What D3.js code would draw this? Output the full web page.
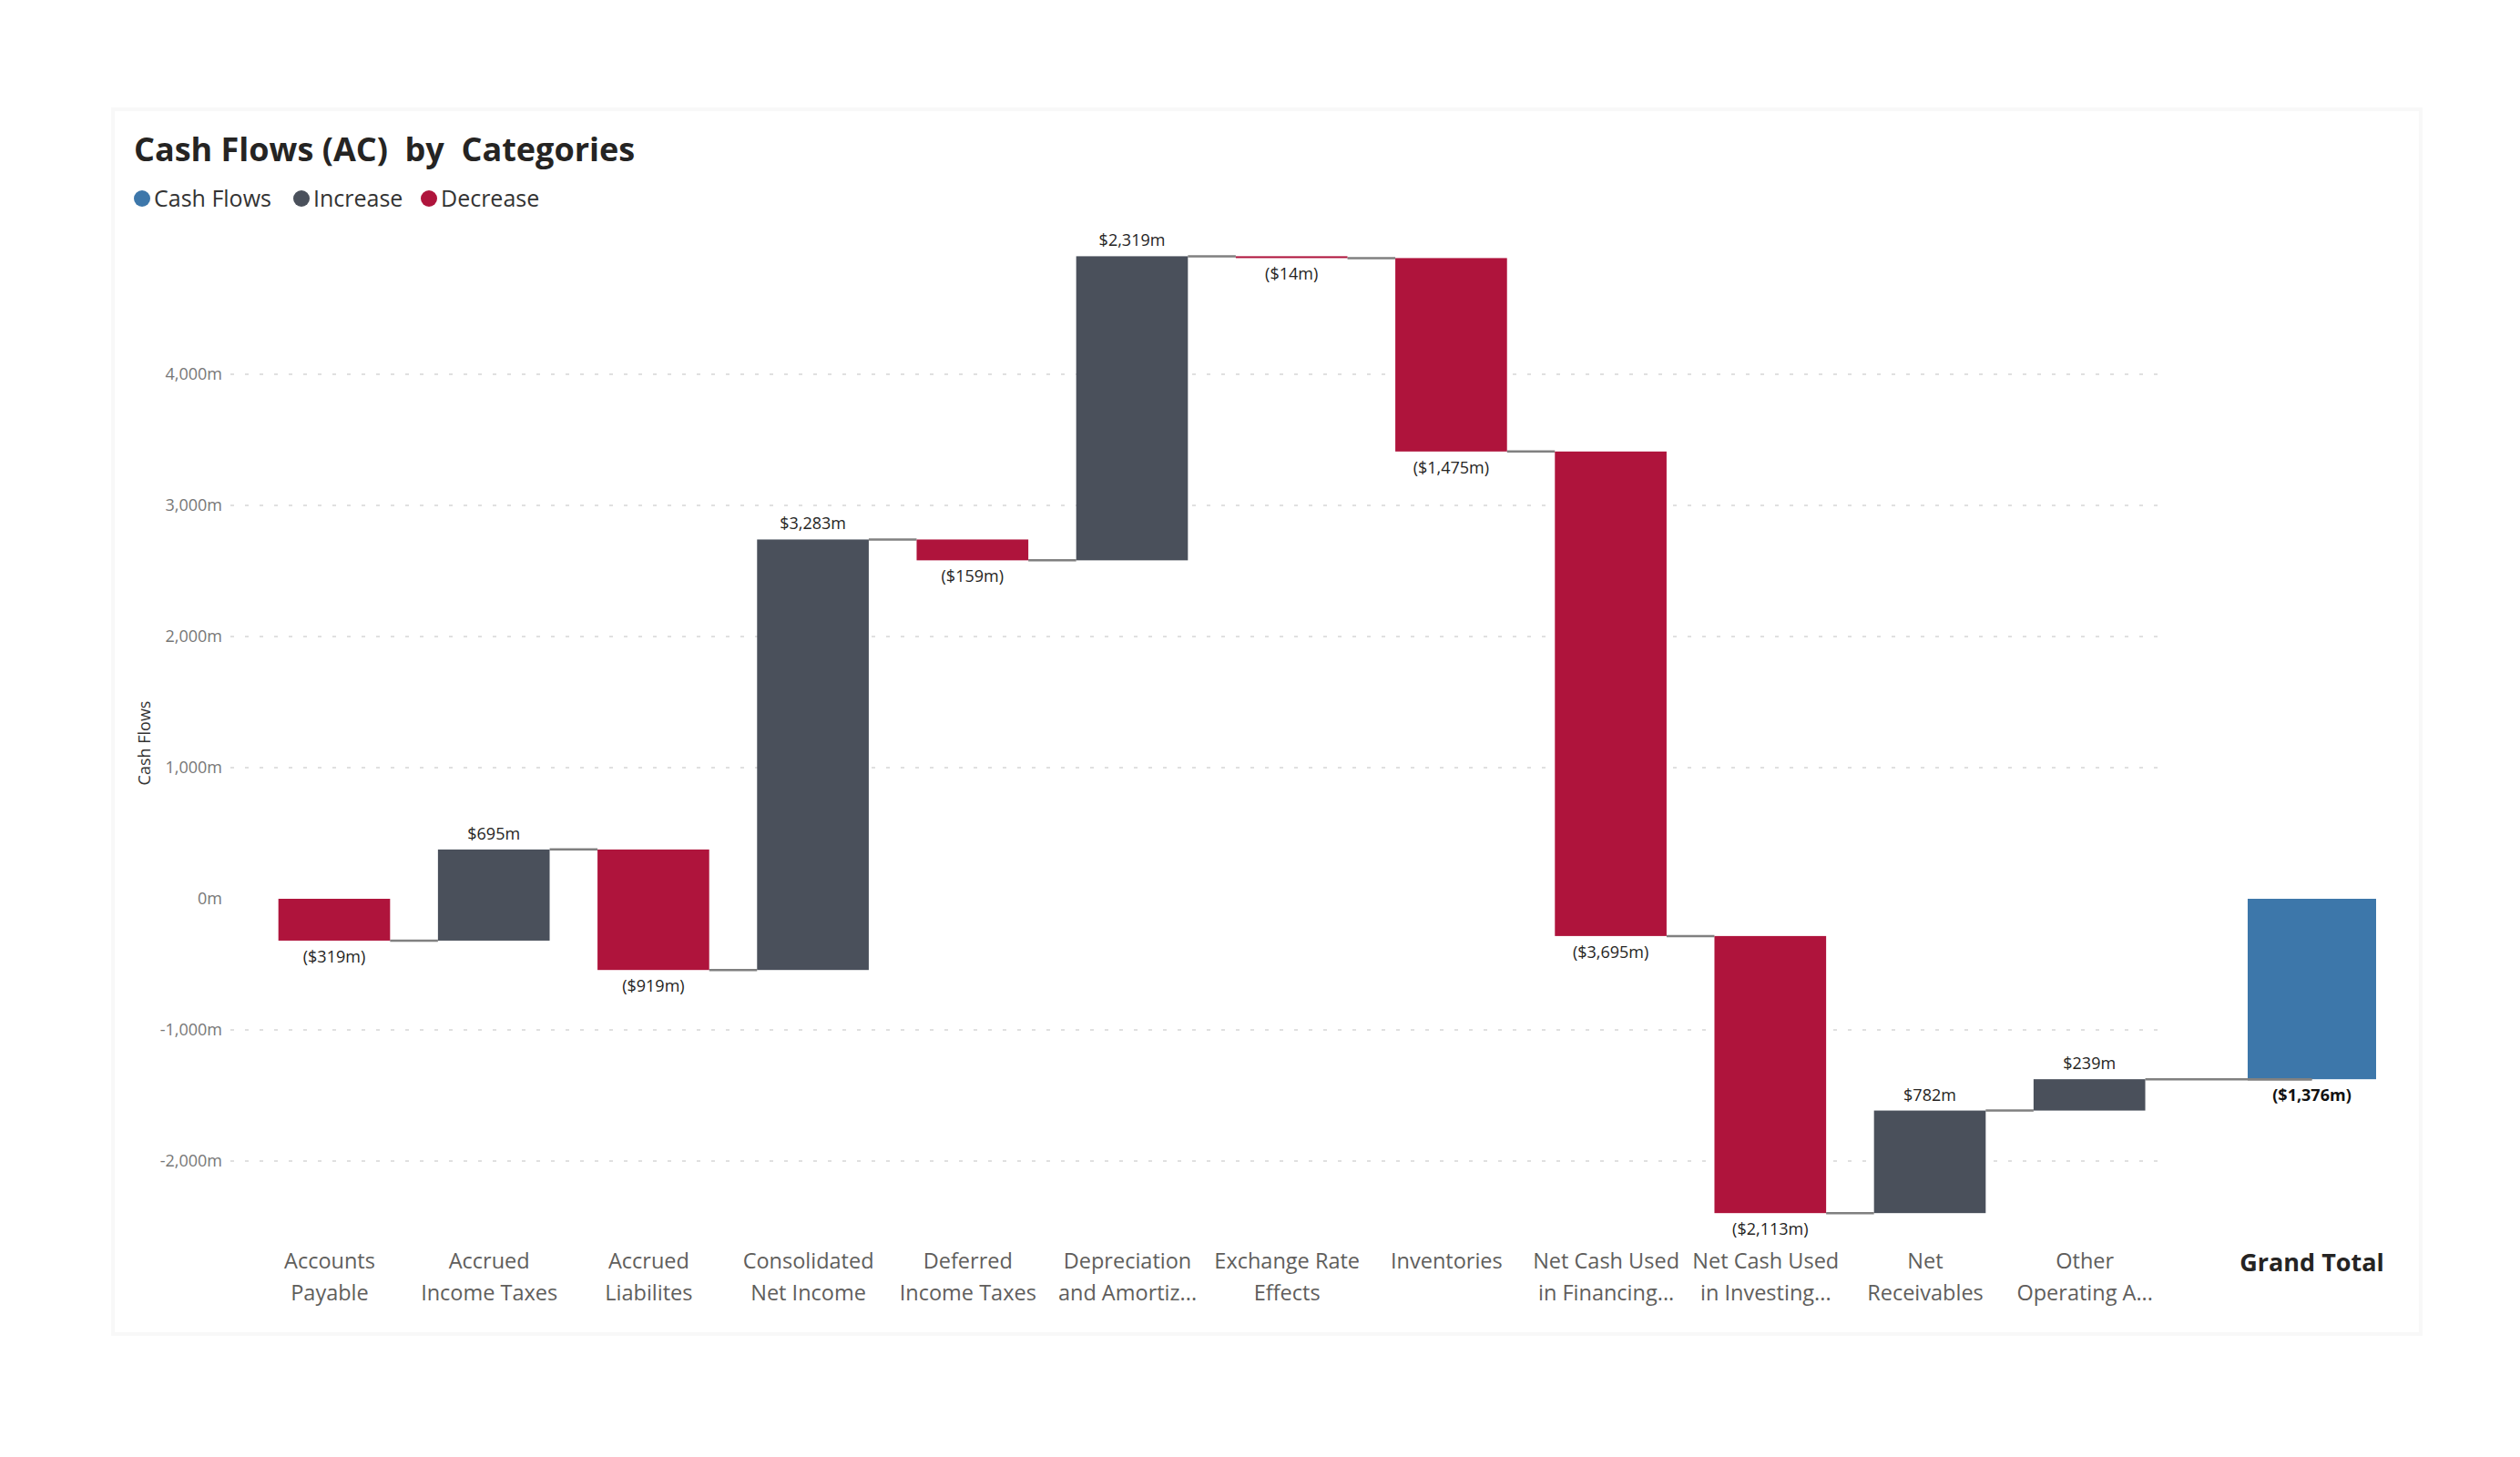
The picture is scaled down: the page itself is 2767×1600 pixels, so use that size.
<html>
<head><meta charset="utf-8"></head>
<script src='https://d3js.org/d3.v7.min.js'></script>
<style>
  body { margin: 0; background: #fff; }
  text { font-family: 'Open Sans', 'Noto Sans', sans-serif; }
</style>
<body onload='init()'>
<svg width=2767 height=1600></svg>
<script>
// data
const categoryLines = [
  ['Accounts', 'Payable'], ['Accrued', 'Income Taxes'], ['Accrued', 'Liabilites'],
  ['Consolidated', 'Net Income'], ['Deferred', 'Income Taxes'], ['Depreciation', 'and Amortiz...'],
  ['Exchange Rate', 'Effects'], ['Inventories'], ['Net Cash Used', 'in Financing...'],
  ['Net Cash Used', 'in Investing...'], ['Net', 'Receivables'], ['Other', 'Operating A...']
]
const categories = categoryLines.map(l => l.join(' '))
const values = [-319, 695, -919, 3283, -159, 2319, -14, -1475, -3695, -2113, 782, 239]
const totalLabel = 'Grand Total'
const yTicks = [-2000, -1000, 0, 1000, 2000, 3000, 4000]
const legendItems = ['Cash Flows', 'Increase', 'Decrease']
const colors = {'Cash Flows': '#3d77aa', 'Increase': '#4a505b', 'Decrease': '#af143c'}

function init() {
  const svg = d3.select('svg')

  // faint card
  svg.append('rect').attr('x', 124).attr('y', 120).attr('width', 2534).attr('height', 1345)
    .attr('fill', 'none').attr('stroke', '#f8f8f8').attr('stroke-width', 4)

  // waterfall steps
  let run = 0
  const steps = values.map((v, i) => {
    const start = run
    run += v
    return {cat: categories[i], lines: categoryLines[i], v: v, start: start, end: run}
  })
  const total = run

  const x = d3.scaleBand().domain(categories).range([279.4, 2381.8])
    .paddingInner(0.3).paddingOuter(0.15)
  const y = d3.scaleLinear().domain([-2700, 5200]).range([987 + 2700 * 0.144, 987 - 5200 * 0.144])
  const totalX = 2468, totalW = 141
  const num = d3.format(',')
  const fmt = v => (v < 0 ? '-' : '') + num(Math.abs(v))

  // gridlines (none at zero)
  svg.append('g').selectAll('line').data(yTicks.filter(t => t != 0)).enter()
    .append('line')
    .attr('x1', 253).attr('x2', 2381)
    .attr('y1', d => y(d)).attr('y2', d => y(d))
    .attr('stroke', '#d6d6d6').attr('stroke-width', 1.5).attr('stroke-dasharray', '4,12')

  // y axis labels
  const yAxis = svg.append('g').attr('transform', 'translate(244,0)')
    .call(d3.axisLeft(y).tickValues(yTicks).tickSize(0).tickPadding(0)
      .tickFormat(d => fmt(d) + 'm'))
  yAxis.select('.domain').remove()
  yAxis.selectAll('text').attr('font-size', 18).attr('fill', '#777')
    .attr('font-family', "'Open Sans', sans-serif")

  svg.append('text').text('Cash Flows')
    .attr('transform', 'translate(165,816) rotate(-90)')
    .attr('text-anchor', 'middle').attr('font-size', 18).attr('fill', '#333')

  // connectors
  const conn = steps.map((s, i) => ({
    x1: x(s.cat) + x.bandwidth(),
    x2: i < steps.length - 1 ? x(steps[i + 1].cat) : totalX + totalW / 2,
    v: s.end
  }))
  svg.append('g').selectAll('line').data(conn).enter()
    .append('line')
    .attr('x1', d => d.x1).attr('x2', d => d.x2)
    .attr('y1', d => y(d.v)).attr('y2', d => y(d.v))
    .attr('stroke', '#808080').attr('stroke-width', 2.5)

  // bars
  svg.append('g').selectAll('rect').data(steps).enter()
    .append('rect')
    .attr('x', d => x(d.cat))
    .attr('width', x.bandwidth())
    .attr('y', d => y(Math.max(d.start, d.end)))
    .attr('height', d => Math.max(1.5, Math.abs(y(d.start) - y(d.end))))
    .attr('fill', d => d.v >= 0 ? colors['Increase'] : colors['Decrease'])

  svg.append('rect').attr('x', totalX).attr('width', totalW)
    .attr('y', y(Math.max(0, total))).attr('height', Math.abs(y(0) - y(total)))
    .attr('fill', colors['Cash Flows'])
  svg.append('line').attr('x1', totalX).attr('x2', totalX + totalW / 2)
    .attr('y1', y(total)).attr('y2', y(total))
    .attr('stroke', '#808080').attr('stroke-width', 2.5)

  const money = v => v < 0 ? '($' + num(-v) + 'm)' : '$' + num(v) + 'm'

  // data labels
  svg.append('g').selectAll('text').data(steps).enter()
    .append('text')
    .attr('x', d => x(d.cat) + x.bandwidth() / 2)
    .attr('y', d => d.v >= 0 ? y(d.end) - 11 : y(d.end) + 24)
    .attr('text-anchor', 'middle').attr('font-size', 18).attr('fill', '#252423')
    .text(d => money(d.v))
  svg.append('text').attr('x', totalX + totalW / 2)
    .attr('y', total < 0 ? y(total) + 24 : y(total) - 11)
    .attr('text-anchor', 'middle').attr('font-size', 18).attr('font-weight', 700)
    .attr('fill', '#111').text(money(total))

  // category labels
  const cat = svg.append('g').selectAll('text').data(steps).enter()
    .append('text')
    .attr('text-anchor', 'middle').attr('font-size', 23.5).attr('fill', '#605e5c')
  cat.selectAll('tspan').data(d => d.lines.map(l => ({l: l, c: d.cat}))).enter()
    .append('tspan')
    .attr('x', d => x(d.c) + x.bandwidth() / 2 - 5)
    .attr('y', (d, i) => 1393 + i * 35)
    .text(d => d.l)
  svg.append('text').attr('x', totalX + totalW / 2).attr('y', 1396)
    .attr('text-anchor', 'middle').attr('font-size', 27).attr('font-weight', 700)
    .attr('fill', '#252423').text(totalLabel)

  // title
  svg.append('text').attr('x', 147).attr('y', 177)
    .attr('font-size', 36).attr('font-weight', 700).attr('fill', '#252423')
    .style('white-space', 'pre')
    .text('Cash Flows (AC)  by  Categories')

  // legend
  const legX = [156, 331, 471]
  const leg = svg.append('g').selectAll('g').data(legendItems).enter()
    .append('g').attr('transform', (d, i) => 'translate(' + legX[i] + ',218)')
  leg.append('circle').attr('r', 9).attr('fill', d => colors[d])
  leg.append('text').attr('x', 13).attr('y', 9).attr('font-size', 25).attr('fill', '#333')
    .text(d => d)
}
</script>
</body>
</html>
